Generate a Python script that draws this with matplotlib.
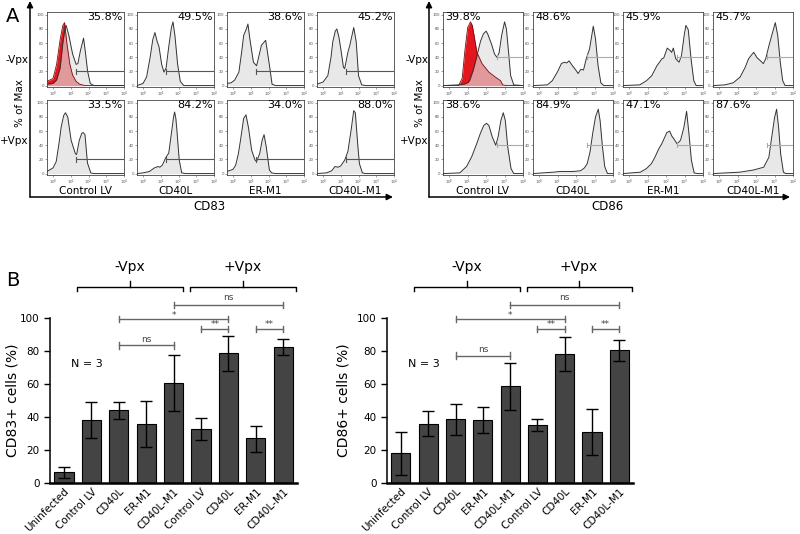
import numpy as np
import matplotlib
matplotlib.use('Agg')
import matplotlib.pyplot as plt

# ---- panel A : flow histograms (log10 fluorescence, % of max) ----
# CD83, top row -Vpx, bottom row +Vpx
h83_red = [(-0.34, 6), (0, 10), (0.2, 30), (0.4, 65), (0.55, 85), (0.65, 89), (0.78, 60), (0.95, 30),
           (1.1, 15), (1.3, 6), (1.5, 2), (1.8, 0), (4, 0)]
h83_ctrl_minus = [(-0.34, 2), (0, 3), (0.2, 8), (0.4, 25), (0.55, 60), (0.68, 82), (0.74, 85), (0.9, 70),
                  (1.1, 45), (1.3, 30), (1.4, 31), (1.55, 50), (1.72, 67), (1.82, 48), (1.95, 20), (2.1, 3),
                  (2.3, 0), (4, 0)]
h83_cd40l_minus = [(-0.34, 0), (0, 3), (0.2, 12), (0.4, 40), (0.55, 65), (0.67, 75), (0.8, 62), (0.9, 55),
                   (1.05, 30), (1.18, 19), (1.3, 25), (1.45, 55), (1.6, 82), (1.69, 90), (1.8, 70), (1.95, 30),
                   (2.1, 6), (2.3, 0), (4, 0)]
h83_er_minus = [(-0.34, 3), (-0.1, 4), (0.1, 8), (0.33, 19), (0.5, 50), (0.6, 71), (0.75, 80), (0.84, 87),
                (0.96, 64), (1.15, 33), (1.33, 28), (1.6, 57), (1.84, 64), (2.05, 29), (2.2, 2), (2.4, 0), (4, 0)]
h83_m1_minus = [(-0.34, 2), (0, 5), (0.27, 14), (0.45, 40), (0.55, 62), (0.69, 77), (0.78, 80), (0.9, 68),
                (1.0, 52), (1.15, 26), (1.22, 24), (1.4, 47), (1.51, 57), (1.73, 82), (1.87, 62), (2.0, 14),
                (2.18, 1), (2.4, 0), (4, 0)]
h83_ctrl_plus = [(-0.34, 3), (0, 8), (0.18, 17), (0.35, 45), (0.46, 66), (0.6, 82), (0.7, 86), (0.83, 80),
                 (1.02, 47), (1.26, 28), (1.33, 27), (1.48, 47), (1.62, 57), (1.7, 58), (1.8, 55), (1.94, 15),
                 (2.13, 1), (2.3, 0), (4, 0)]
h83_cd40l_plus = [(-0.34, 0), (0, 1), (0.36, 3), (0.64, 8), (0.85, 10), (0.95, 9), (1.09, 12), (1.27, 22),
                  (1.45, 29), (1.6, 57), (1.72, 80), (1.78, 87), (1.85, 78), (1.91, 61), (2.04, 19), (2.18, 1),
                  (2.4, 0), (4, 0)]
h83_er_plus = [(-0.34, 3), (0, 6), (0.15, 12), (0.3, 28), (0.42, 47), (0.6, 78), (0.73, 83), (0.87, 65),
               (1.05, 33), (1.24, 19), (1.33, 17), (1.5, 28), (1.65, 48), (1.75, 55), (1.87, 38), (2.05, 5),
               (2.18, 1), (2.4, 0), (4, 0)]
h83_m1_plus = [(-0.34, 0), (0.2, 1), (0.49, 4), (0.67, 10), (0.85, 9), (1.0, 11), (1.22, 19), (1.4, 31),
               (1.58, 61), (1.73, 89), (1.82, 86), (1.95, 43), (2.05, 14), (2.22, 1), (2.4, 0), (4, 0)]

# CD86
h86_red = [(-0.34, 0), (0.5, 0), (0.7, 10), (0.85, 50), (1.0, 82), (1.15, 90), (1.25, 85), (1.35, 70),
           (1.5, 47), (1.78, 31), (2.15, 19), (2.5, 12), (2.78, 7), (2.9, 1), (3.1, 0), (4, 0)]
h86_ctrl_minus = [(-0.34, 0), (0.5, 1), (0.8, 2), (1.0, 4), (1.1, 7), (1.3, 22), (1.5, 42), (1.7, 63),
                  (1.85, 73), (2.0, 77), (2.1, 72), (2.3, 58), (2.45, 45), (2.58, 40), (2.7, 46), (2.85, 72),
                  (3.0, 90), (3.1, 80), (3.2, 52), (3.33, 14), (3.5, 1), (4, 0)]
h86_cd40l_minus = [(-0.34, 0), (0.44, 1), (0.71, 7), (0.98, 19), (1.2, 31), (1.35, 33), (1.49, 32),
                   (1.62, 35), (1.8, 28), (1.98, 22), (2.11, 17), (2.25, 23), (2.4, 22), (2.55, 38), (2.73, 52),
                   (2.93, 84), (3.05, 66), (3.19, 28), (3.34, 4), (3.5, 0), (4, 0)]
h86_er_minus = [(-0.34, 0), (0.57, 1), (0.94, 7), (1.22, 14), (1.5, 28), (1.78, 38), (1.87, 39), (2.06, 53),
                (2.2, 50), (2.3, 47), (2.39, 53), (2.52, 38), (2.7, 33), (2.83, 42), (2.98, 71), (3.07, 85),
                (3.2, 79), (3.35, 38), (3.5, 7), (3.63, 0), (4, 0)]
h86_m1_minus = [(-0.34, 0), (0.3, 1), (0.76, 4), (1.13, 12), (1.41, 26), (1.59, 38), (1.74, 43), (1.87, 47),
                (2.06, 39), (2.24, 35), (2.39, 31), (2.52, 38), (2.7, 57), (2.89, 75), (3.04, 89), (3.17, 71),
                (3.31, 33), (3.44, 7), (3.57, 0), (4, 0)]
h86_ctrl_plus = [(-0.34, 0), (0.57, 1), (0.94, 10), (1.22, 24), (1.5, 43), (1.69, 57), (1.87, 68), (2.02, 71),
                 (2.15, 68), (2.33, 52), (2.52, 40), (2.65, 52), (2.8, 75), (2.93, 86), (3.04, 75), (3.17, 38),
                 (3.35, 7), (3.5, 0), (4, 0)]
h86_cd40l_plus = [(-0.34, 0), (0.76, 2), (1.13, 3), (1.5, 3), (1.87, 3), (2.24, 4), (2.45, 8), (2.6, 14),
                  (2.75, 30), (2.9, 57), (3.05, 80), (3.2, 91), (3.3, 75), (3.42, 40), (3.55, 10), (3.7, 0), (4, 0)]
h86_er_plus = [(-0.34, 0), (0.6, 2), (0.93, 7), (1.2, 14), (1.39, 23), (1.6, 35), (1.76, 42), (1.9, 50),
               (2.04, 58), (2.19, 60), (2.31, 53), (2.45, 48), (2.59, 42), (2.78, 47), (2.96, 65), (3.11, 88),
               (3.24, 56), (3.37, 19), (3.52, 1), (3.7, 0), (4, 0)]
h86_m1_plus = [(-0.34, 0), (0.37, 1), (1.11, 2), (1.85, 5), (2.41, 9), (2.69, 23), (2.87, 56), (3.0, 79),
               (3.11, 91), (3.22, 65), (3.33, 28), (3.48, 2), (3.61, 0), (4, 0)]

samples = ["Control LV", "CD40L", "ER-M1", "CD40L-M1"]
pct83 = ["35.8%", "49.5%", "38.6%", "45.2%", "33.5%", "84.2%", "34.0%", "88.0%"]
pct86 = ["39.8%", "48.6%", "45.9%", "45.7%", "38.6%", "84.9%", "47.1%", "87.6%"]
gate83 = (1.3, 20)
gate86 = (2.6, 40)

# ---- panel B : bar charts ----
groups = ["Uninfected", "Control LV", "CD40L", "ER-M1", "CD40L-M1",
          "Control LV", "CD40L", "ER-M1", "CD40L-M1"]
cd83_mean = [6.5, 38, 44, 36, 60.6, 33, 78.6, 27, 82.2]
cd83_lo = [2.8, 27, 39, 22, 43.6, 26, 68, 18.8, 77.4]
cd83_hi = [10, 49, 49, 50, 77.4, 39.6, 89, 34.7, 87]
cd86_mean = [18.2, 36, 38.8, 38.4, 58.6, 35.2, 78.4, 30.9, 80.4]
cd86_lo = [5, 28.3, 29, 30.3, 44, 31.5, 67.9, 17, 74]
cd86_hi = [31, 43.6, 47.9, 46, 72.7, 38.8, 88.3, 44.8, 86.5]


fig = plt.figure(figsize=(8, 5.34), dpi=100)


def px(x, y, w, h):
    return [x / 800, 1 - (y + h) / 534, w / 800, h / 534]


def hist_panel(ax, curve, red=None, pct="", pct_left=False, gate=(1, 20), gate_col="#555"):
    c = np.array(curve, dtype=float)
    x = 10 ** c[:, 0]
    if red is not None:
        r = np.array(red, dtype=float)
        ax.fill_between(10 ** r[:, 0], r[:, 1], color="#e3161d", lw=0, zorder=1)
        ax.plot(10 ** r[:, 0], r[:, 1], color="#7a0a0d", lw=0.6, zorder=3)
        ax.fill_between(x, c[:, 1], color=(0.88, 0.88, 0.88), alpha=0.65, lw=0, zorder=2)
    else:
        ax.fill_between(x, c[:, 1], color="#e8e8e8", lw=0, zorder=2)
    ax.plot(x, c[:, 1], color="#333333", lw=0.7, zorder=4)
    g0, lvl = gate
    ax.plot([10 ** g0, 10 ** 4], [lvl, lvl], color=gate_col, lw=0.8, zorder=5)
    ax.plot([10 ** g0, 10 ** g0], [lvl - 3, lvl + 3], color=gate_col, lw=0.8, zorder=5)
    ax.set_xscale("log")
    ax.set_xlim(10 ** -0.34, 10 ** 4)
    ax.set_ylim(-2, 104)
    ax.set_xticks([1, 10, 100, 1000, 10000])
    ax.set_xticklabels([r"$10^0$", r"$10^1$", r"$10^2$", r"$10^3$", r"$10^4$"])
    ax.minorticks_off()
    ax.set_yticks([0, 20, 40, 60, 80, 100])
    ax.tick_params(labelsize=2.8, length=1.5, width=0.4, pad=0.6, colors="#555")
    for s in ax.spines.values():
        s.set_linewidth(0.6)
        s.set_color("#444")
    if pct_left:
        ax.text(0.03, 0.995, pct, transform=ax.transAxes, ha="left", va="top", fontsize=8)
    else:
        ax.text(0.985, 0.995, pct, transform=ax.transAxes, ha="right", va="top", fontsize=8)


curves83 = [h83_ctrl_minus, h83_cd40l_minus, h83_er_minus, h83_m1_minus,
            h83_ctrl_plus, h83_cd40l_plus, h83_er_plus, h83_m1_plus]
curves86 = [h86_ctrl_minus, h86_cd40l_minus, h86_er_minus, h86_m1_minus,
            h86_ctrl_plus, h86_cd40l_plus, h86_er_plus, h86_m1_plus]

left_x = [47, 137, 227, 317]
right_x = [443, 533, 623, 713]
row_y = [12, 100]

for i in range(8):
    row, col = divmod(i, 4)
    ax = fig.add_axes(px(left_x[col], row_y[row], 77, 75))
    hist_panel(ax, curves83[i], red=h83_red if i == 0 else None, pct=pct83[i],
               gate=gate83, gate_col="#555555")
    ax = fig.add_axes(px(right_x[col], row_y[row], 80, 75))
    hist_panel(ax, curves86[i], red=h86_red if i == 0 else None, pct=pct86[i], pct_left=True,
               gate=gate86, gate_col="#aaaaaa")

# overlay for arrows and free labels, in pixel units
ov = fig.add_axes([0, 0, 1, 1], zorder=10)
ov.set_xlim(0, 800)
ov.set_ylim(534, 0)
ov.axis("off")
arr = dict(arrowstyle="-|>", color="k", lw=1.1, mutation_scale=9, shrinkA=0, shrinkB=0)
for x0, x1, xl, title in [(30, 393, 0, "CD83"), (429, 790, 400, "CD86")]:
    ov.annotate("", xy=(x0, 1), xytext=(x0, 197), arrowprops=arr)
    ov.annotate("", xy=(x1, 197), xytext=(x0, 197), arrowprops=arr)
    ov.text((x0 + x1) / 2 - 2, 207, title, ha="center", va="center", fontsize=8.5)
    ov.text(xl + 28, 60, "-Vpx", ha="right", va="center", fontsize=7.5)
    ov.text(xl + 28, 141, "+Vpx", ha="right", va="center", fontsize=7.5)
    ov.text(xl + 20, 103, "% of Max", ha="center", va="center", rotation=90, fontsize=7.5)
cols_x = [left_x, right_x]
for k, xs in enumerate(cols_x):
    w = 77 if k == 0 else 80
    for j, name in enumerate(samples):
        ov.text(xs[j] + w / 2, 191.5, name, ha="center", va="center", fontsize=7.5)
ov.text(13, 16, "A", ha="center", va="center", fontsize=14)
ov.text(13, 281, "B", ha="center", va="center", fontsize=14)


def brace(ax, x0, x1, label):
    mid = (x0 + x1) / 2
    ax.plot([x0, x0, x1, x1], [116.5, 119, 119, 116.5], color="k", lw=1, clip_on=False)
    ax.plot([mid, mid], [119, 122.5], color="k", lw=1, clip_on=False)
    ax.text(mid, 131, label, ha="center", va="center", fontsize=10)


def sig(ax, x0, x1, y, label, dy):
    ax.plot([x0, x1], [y, y], color="#666666", lw=1, clip_on=False)
    for xx in (x0, x1):
        ax.plot([xx, xx], [y - 2, y + 2], color="#666666", lw=1, clip_on=False)
    ax.text((x0 + x1) / 2, y + dy, label, ha="center", va="center", fontsize=6.5, color="#444444")


def bar_panel(ax, mean, lo, hi, ylabel, ns_low, label_x):
    xs = np.arange(len(mean))
    m = np.array(mean)
    err = [m - np.array(lo), np.array(hi) - m]
    ax.bar(xs, m, width=0.7, color="#444444", edgecolor="k", linewidth=0.8)
    ax.errorbar(xs, m, yerr=err, fmt="none", ecolor="k", elinewidth=1, capsize=4.5, capthick=1)
    ax.set_xlim(-0.51, 8.5)
    ax.set_ylim(0, 100)
    ax.set_yticks([0, 20, 40, 60, 80, 100])
    ax.set_xticks(xs)
    ax.set_xticklabels(groups, rotation=45, ha="right", rotation_mode="anchor", fontsize=7.5)
    ax.tick_params(axis="x", length=0, pad=2.5)
    ax.tick_params(axis="y", labelsize=7.5, length=4, width=1)
    ax.spines["top"].set_visible(False)
    ax.spines["right"].set_visible(False)
    ax.spines["left"].set_linewidth(1.1)
    ax.spines["bottom"].set_linewidth(1.8)
    ax.set_ylabel(ylabel, fontsize=10)
    ax.yaxis.set_label_coords(label_x, 0.5)
    ax.text(0.25, 72, "N = 3", ha="left", va="center", fontsize=8)
    brace(ax, 0.48, 4.35, "-Vpx")
    brace(ax, 4.6, 8.45, "+Vpx")
    sig(ax, 4, 8, 108, "ns", 4.6)
    sig(ax, 2, 6, 99.4, "*", 2.4)
    sig(ax, 5, 6, 93.3, "**", 2.6)
    sig(ax, 7, 8, 93.3, "**", 2.6)
    sig(ax, 2, 4, ns_low, "ns", 3.8)


axb1 = fig.add_axes(px(50, 318, 247, 165))
bar_panel(axb1, cd83_mean, cd83_lo, cd83_hi, "CD83+ cells (%)", 83.4, -0.125)
axb2 = fig.add_axes(px(387, 318, 246, 165))
bar_panel(axb2, cd86_mean, cd86_lo, cd86_hi, "CD86+ cells (%)", 77.2, -0.15)

fig.savefig("out.png", dpi=100)
